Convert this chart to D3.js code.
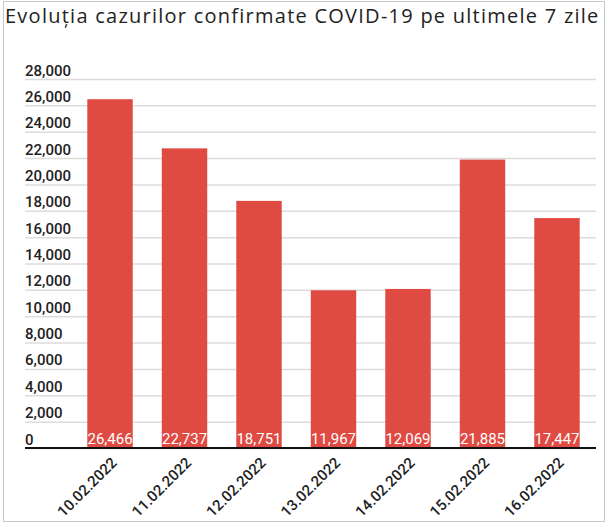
<!DOCTYPE html>
<html>
<head>
<meta charset="utf-8">
<script src="https://cdn.jsdelivr.net/npm/d3@7"></script>
<style>
  body { margin: 0; background: #fff; }
  text { font-family: Roboto, "Noto Sans", sans-serif; }
</style>
</head>
<body>
<div id="chart"></div>
<script>
const dates = ["10.02.2022", "11.02.2022", "12.02.2022", "13.02.2022", "14.02.2022", "15.02.2022", "16.02.2022"];
const cases = [26466, 22737, 18751, 11967, 12069, 21885, 17447];
const yTicks = [0, 2000, 4000, 6000, 8000, 10000, 12000, 14000, 16000, 18000, 20000, 22000, 24000, 26000, 28000];
const title = "Evoluția cazurilor confirmate COVID-19 pe ultimele 7 zile";

const width = 609, height = 526;
const plotLeft = 25, plotRight = 596, plotTop = 79, plotBottom = 448;
const fmt = d3.format(",");

const svg = d3.select("#chart").append("svg")
  .attr("width", width)
  .attr("height", height);

svg.append("rect")
  .attr("x", 3.5).attr("y", 1.5)
  .attr("width", 601).attr("height", 520)
  .attr("fill", "none")
  .attr("stroke", "#c8c8c8");

svg.append("text")
  .attr("x", 5).attr("y", 23)
  .style("font-family", "'Open Sans', sans-serif")
  .style("letter-spacing", "1.25px")
  .attr("font-size", 20)
  .attr("fill", "#222")
  .text(title);

const y = d3.scaleLinear().domain([0, 28000]).range([plotBottom, plotTop]);
const x = d3.scaleBand().domain(dates).range([87.3, 579.7]).paddingInner(0.39).paddingOuter(0);

// grid + tick labels
const yAxis = svg.append("g")
  .attr("transform", `translate(${plotLeft},0)`)
  .call(d3.axisRight(y).tickValues(yTicks).tickSize(plotRight - plotLeft).tickFormat(fmt));
yAxis.select(".domain").remove();
yAxis.selectAll("line").attr("stroke", "#dcdcdc").attr("stroke-width", 1.5);
yAxis.selectAll("text")
  .attr("x", 0).attr("dy", -4)
  .attr("text-anchor", "start")
  .attr("font-size", 15)
  .attr("font-weight", 500)
  .attr("fill", "#222");

svg.selectAll("rect.bar")
  .data(cases)
  .enter().append("rect")
  .attr("class", "bar")
  .attr("x", (d, i) => x(dates[i]))
  .attr("y", d => y(d))
  .attr("width", x.bandwidth())
  .attr("height", d => y(0) - y(d))
  .attr("fill", "#df4a42");

svg.selectAll("text.val")
  .data(cases)
  .enter().append("text")
  .attr("class", "val")
  .attr("x", (d, i) => x(dates[i]) + x.bandwidth() / 2)
  .attr("y", y(0) - 4)
  .attr("text-anchor", "middle")
  .attr("font-size", 15)
  .attr("fill", "#fff")
  .text(d => fmt(d));

// baseline
svg.append("line")
  .attr("x1", plotLeft).attr("x2", plotRight)
  .attr("y1", y(0)).attr("y2", y(0))
  .attr("stroke", "#111").attr("stroke-width", 2);

const xAxis = svg.append("g")
  .attr("transform", `translate(0,${plotBottom})`)
  .call(d3.axisBottom(x).tickSize(0));
xAxis.select(".domain").remove();
// rotated date labels, ending just right of each bar centre
xAxis.selectAll(".tick text").each(function () {
  const t = d3.select(this);
  const label = t.text();
  const tick = d3.select(this.parentNode);
  t.remove();
  tick.append("g")
    .attr("transform", "translate(4,12) rotate(-45)")
    .append("text")
    .attr("x", 0).attr("y", 0).attr("dy", "0.35em")
    .attr("text-anchor", "end")
    .attr("font-size", 15)
    .attr("font-weight", 500)
    .attr("fill", "#222")
    .text(label);
});
</script>
</body>
</html>
